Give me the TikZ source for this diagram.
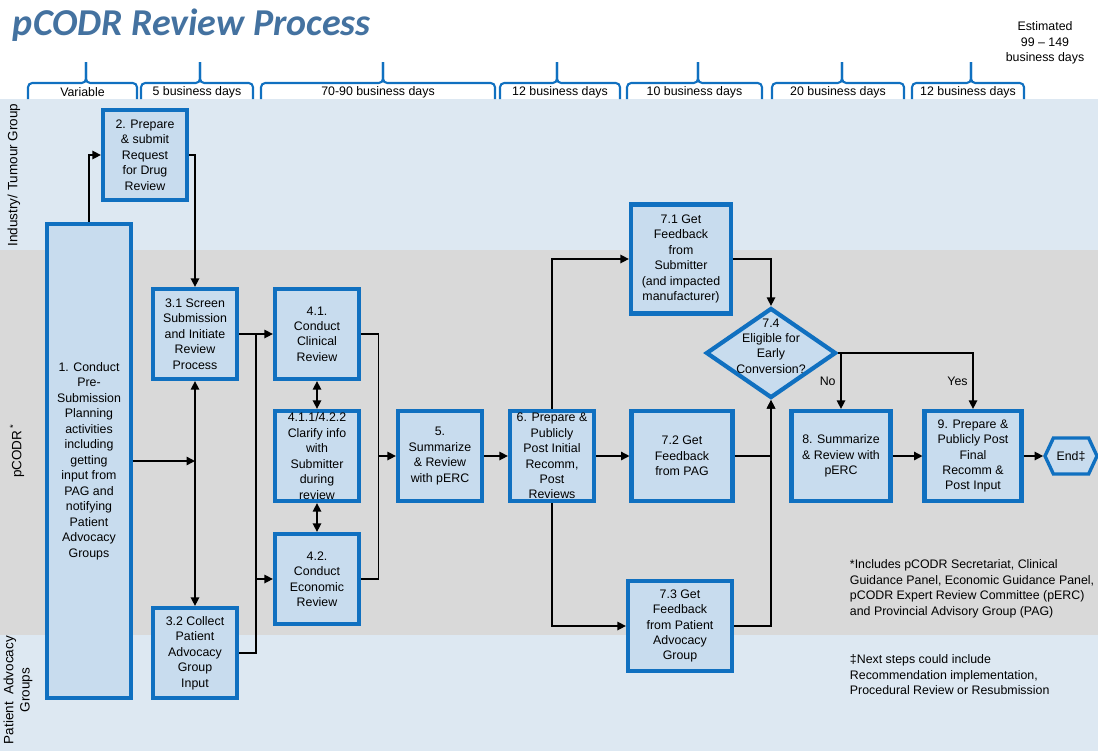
\documentclass[tikz,border=0pt]{standalone}
\usepackage{fontspec}
\setmainfont{Liberation Sans}
\newfontfamily\titlefont{Carlito}
\usepackage{tikz}
\usepackage{xcolor}
\usetikzlibrary{arrows.meta, shapes.geometric, shapes.symbols, calc}
\definecolor{lanefill}{RGB}{221,232,242}
\definecolor{midfill}{RGB}{217,217,217}
\definecolor{boxfill}{RGB}{200,220,238}
\definecolor{boxline}{RGB}{16,112,192}
\definecolor{titleblue}{RGB}{68,114,160}

\begin{document}
\begin{tikzpicture}[x=0.025cm, y=-0.025cm,
    font=\fontsize{8.8}{11}\selectfont,
    stepbox/.style={rectangle, draw=boxline, line width=3pt, fill=boxfill,
        align=center, minimum width=2.1cm, minimum height=2.25cm, inner sep=0.5pt},
    decision/.style={diamond, draw=boxline, line width=3pt, fill=boxfill,
        minimum width=3.25cm, minimum height=2.25cm, inner sep=0pt},
    flow/.style={line width=1pt, -{Triangle[length=6pt,width=6pt]}},
    both/.style={line width=1pt, {Triangle[length=6pt,width=6pt]}-{Triangle[length=6pt,width=6pt]}},
    bracket/.style={draw=boxline, line width=1.5pt, rounded corners=3pt},
    lanelabel/.style={rotate=90, font=\fontsize{9.6}{11.5}\selectfont}]

\useasboundingbox (0,0) rectangle (1098,751);

% Swim lanes
\fill[lanefill] (0,99) rectangle (1098,250);
\fill[midfill] (0,250) rectangle (1098,635);
\fill[lanefill] (0,635) rectangle (1098,751);

\node[lanelabel] (lane-industry) at (14,175) {Industry/ Tumour Group};
\node[lanelabel] (lane-pcodr) at (17,451) {pCODR\,\textsuperscript{*}};
\node[lanelabel, align=center] (lane-patient) at (18,690) {Patient\ \ Advocacy\\Groups};

% Title and time line
\node[anchor=west, text=titleblue, font=\titlefont\bfseries\itshape\fontsize{27}{31}\selectfont]
    (title) at (8,25) {pCODR Review Process};
\node[align=center] (total) at (1045,43) {Estimated\\99 -- 149\\business days};

\foreach \xa/\xb/\xt/\lbl in {28/137/86/Variable, 141/253/200/5 business days,
    261/495/383/70-90 business days, 500/620/557/12 business days,
    627/762/698/10 business days, 772/904/842/20 business days,
    912/1024/971/12 business days} {
    \draw[bracket] (\xa,99) -- (\xa,83) -- (\xt,83) -- (\xt,62);
    \draw[bracket] (\xt,62) -- (\xt,83) -- (\xb,83) -- (\xb,99);
    \node (span-\xt) at ({(\xa+\xb)/2},92) {\lbl};
}

% Process steps
\node[stepbox, minimum width=2.08cm, minimum height=11.85cm] (pre-sub) at (89,461)
    {1. Conduct\\Pre-\\Submission\\Planning\\activities\\including\\getting\\input from\\PAG and\\notifying\\Patient\\Advocacy\\Groups};
\node[stepbox] (prepare) at (145,155) {2. Prepare\\\& submit\\Request\\for Drug\\Review};
\node[stepbox] (screen) at (195,334) {3.1 Screen\\Submission\\and Initiate\\Review\\Process};
\node[stepbox] (collect) at (195,653) {3.2 Collect\\Patient\\Advocacy\\Group\\Input};
\node[stepbox] (clinical) at (317,334) {4.1.\\Conduct\\Clinical\\Review};
\node[stepbox] (clarify) at (317,456) {4.1.1/4.2.2\\Clarify info\\with\\Submitter\\during\\review};
\node[stepbox] (econ) at (317,579) {4.2.\\Conduct\\Economic\\Review};
\node[stepbox] (summarize) at (440,456) {5.\\Summarize\\\& Review\\with pERC};
\node[stepbox] (post-initial) at (552,456) {6. Prepare \&\\Publicly\\Post Initial\\Recomm,\\Post\\Reviews};
\node[stepbox, minimum width=2.5cm, minimum height=2.72cm] (fb-submitter) at (681,259)
    {7.1 Get\\Feedback\\from\\Submitter\\(and impacted\\manufacturer)};
\node[stepbox, minimum width=2.52cm] (fb-pag) at (682,456) {7.2 Get\\Feedback\\from PAG};
\node[stepbox, minimum width=2.6cm] (fb-patient) at (680,626) {7.3 Get\\Feedback\\from Patient\\Advocacy\\Group};
\node[decision] (eligible) at (771,353) {};
\node[align=center] (eligible-text) at (771,346) {7.4\\Eligible for\\Early\\Conversion?};
\node[stepbox, minimum width=2.47cm] (final-review) at (841,456) {8. Summarize\\\& Review with\\pERC};
\node[stepbox, minimum width=2.42cm] (final-post) at (973,456) {9. Prepare \&\\Publicly Post\\Final\\Recomm \&\\Post Input};
\node[signal, signal to=west and east, signal pointer angle=130, draw=boxline,
      line width=2.4pt, fill=boxfill, minimum width=1.3cm, minimum height=0.9cm,
      inner sep=1pt] (end) at (1071,456) {End‡};

% Notes
\node[anchor=north west, align=left] (note-pcodr) at (845,555)
    {*Includes pCODR Secretariat, Clinical\\Guidance Panel, Economic Guidance Panel,\\pCODR Expert Review Committee (pERC)\\and Provincial Advisory Group (PAG)};
\node[anchor=north west, align=left] (note-next) at (845,650)
    {‡Next steps could include\\Recommendation implementation,\\Procedural Review or Resubmission};

% Connectors
\draw[flow] (pre-sub.north) |- (prepare.west);
\draw[flow] (prepare.east) -| (screen.north);
\draw[flow] (pre-sub.east) -- (pre-sub.east -| screen.south);
\draw[both] (screen.south) -- (collect.north);

\coordinate (split-in) at ($(screen.east)!0.5!(clinical.west)$);
\draw[flow] (screen.east) -- (clinical.west);
\draw[line width=1pt] (collect.east) -| (split-in);
\draw[flow] (split-in |- econ.west) -- (econ.west);

\draw[both] (clinical.south) -- (clarify.north);
\draw[both] (clarify.south) -- (econ.north);

\coordinate (join-out) at ($(clinical.east)!0.5!(clinical.east -| summarize.west)$);
\draw[line width=1pt] (clinical.east) -| (join-out |- econ.east) -- (econ.east);
\draw[flow] (join-out |- summarize.west) -- (summarize.west);

\draw[flow] (summarize.east) -- (post-initial.west);
\draw[flow] (post-initial.north) |- (fb-submitter.west);
\draw[flow] (post-initial.east) -- (fb-pag.west);
\draw[flow] (post-initial.south) |- (fb-patient.west);

\draw[flow] (fb-submitter.east) -| (eligible.north);
\draw[flow] (fb-pag.east) -| (eligible.south);
\draw[flow] (fb-patient.east) -| (eligible.south);
\draw[flow] (eligible.east) -| node[pos=0.75, left] {No} (final-review.north);
\draw[flow] (eligible.east) -| node[pos=0.75, left] {Yes} (final-post.north);
\draw[flow] (final-review.east) -- (final-post.west);
\draw[flow] (final-post.east) -- (end.west);

\end{tikzpicture}
\end{document}
